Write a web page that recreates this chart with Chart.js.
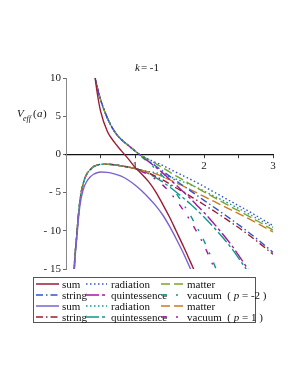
<!DOCTYPE html>
<html lang="en">
<head>
<meta charset="utf-8">
<title>k = -1</title>
<script src="https://cdn.jsdelivr.net/npm/chart.js"></script>
<style>
  html, body { margin: 0; padding: 0; background: #fff; }
</style>
</head>
<body>
<canvas id="veffChart" width="298" height="385"></canvas>
<script>
// scale factor a, shared by all curves
const aGrid = [0.1, 0.12, 0.15, 0.2, 0.25, 0.3, 0.35, 0.4, 0.45, 0.5, 0.6, 0.7, 0.8, 0.9,
               1.0, 1.1, 1.2, 1.3, 1.4, 1.5, 1.6, 1.7, 1.8, 1.9, 2.0, 2.2, 2.4, 2.6, 2.8, 3.0];

// upper family (first set of legend rows)
const sumUp = [null, null, null, null, null, null, 15.5, 11.6, 8.2, 5.7, 3.0, 1.6, 0.5, -0.55,
               -1.7, -2.6, -3.6, -4.9, -6.5, -8.2, -10.1, -12.0, -14.0, -16.0, -18.1, -22.5, -27, -32, -37, -42];
const radUp = [null, null, null, null, null, null, 14.7, 11.2, 8.9, 7.2, 4.75, 3.05, 1.95, 1.2,
               0.45, -0.2, -0.65, -1.05, -1.45, -1.9, -2.35, -2.8, -3.25, -3.7, -4.2, -5.2, -6.2, -7.2, -8.25, -9.3];
const matUp = [null, null, null, null, null, null, 14.7, 11.2, 8.9, 7.2, 4.75, 3.05, 1.95, 1.2,
               0.45, -0.2, -0.7, -1.2, -1.75, -2.3, -2.85, -3.35, -3.9, -4.4, -4.9, -5.9, -6.9, -7.85, -8.85, -9.9];
const strUp = [null, null, null, null, null, null, 14.7, 11.2, 8.9, 7.2, 4.75, 3.05, 1.95, 1.2,
               0.45, -0.2, -0.85, -1.52, -2.17, -2.84, -3.5, -4.1, -4.75, -5.38, -6.01, -7.26, -8.55, -9.88, -11.3, -12.82];
const quiUp = [null, null, null, null, null, null, 14.7, 11.2, 8.9, 7.2, 4.75, 3.05, 1.95, 1.2,
               0.45, -0.25, -0.95, -1.67, -2.42, -3.24, -4.05, -4.9, -5.75, -6.68, -7.61, -9.66, -11.9, -14.53, -17.26, -20.17];
const vacUp = [null, null, null, null, null, null, 14.7, 11.2, 8.9, 7.2, 4.75, 3.05, 1.95, 1.2,
               0.45, -0.35, -1.1, -1.92, -2.82, -3.89, -5.15, -6.5, -7.95, -9.58, -11.31, -15.56, -20.3, -25.33, -30.86, -36.87];

// lower family (second set of legend rows)
const sumLo = [-22.5, -15.3, -11.6, -6.8, -4.6, -3.55, -2.95, -2.6, -2.4, -2.3, -2.35, -2.55, -2.85, -3.35,
               -4.0, -4.8, -5.7, -6.7, -7.9, -9.4, -11.1, -12.9, -14.9, -17.0, -19.2, -24, -29, -34, -39, -44];
const radLo = [-22, -15, -11.2, -6.2, -3.8, -2.6, -2.0, -1.6, -1.4, -1.3, -1.28, -1.35, -1.5, -1.65,
               -1.85, -2.1, -2.25, -2.4, -2.6, -2.9, -3.25, -3.6, -3.95, -4.35, -4.8, -5.7, -6.6, -7.55, -8.55, -9.55];
const matLo = [-22, -15, -11.2, -6.2, -3.8, -2.6, -2.0, -1.6, -1.4, -1.3, -1.28, -1.35, -1.5, -1.65,
               -1.85, -2.1, -2.3, -2.55, -2.9, -3.3, -3.75, -4.15, -4.6, -5.05, -5.5, -6.4, -7.3, -8.2, -9.15, -10.15];
const strLo = [-22, -15, -11.2, -6.2, -3.8, -2.6, -2.0, -1.6, -1.4, -1.3, -1.28, -1.35, -1.5, -1.65,
               -1.85, -2.1, -2.45, -2.88, -3.34, -3.86, -4.4, -4.9, -5.46, -6.02, -6.59, -7.74, -8.95, -10.22, -11.6, -13.08];
const quiLo = [-22, -15, -11.2, -6.2, -3.8, -2.6, -2.0, -1.6, -1.4, -1.3, -1.28, -1.35, -1.5, -1.65,
               -1.85, -2.15, -2.55, -3.03, -3.59, -4.26, -4.95, -5.7, -6.46, -7.32, -8.19, -10.14, -12.3, -14.87, -17.55, -20.43];
const vacLo = [-22, -15, -11.2, -6.2, -3.8, -2.6, -2.0, -1.6, -1.4, -1.3, -1.28, -1.35, -1.5, -1.65,
               -1.85, -2.25, -2.7, -3.28, -3.99, -4.91, -6.05, -7.3, -8.66, -10.22, -11.89, -16.04, -20.7, -25.67, -31.15, -37.13];

const xTicks = [1, 2, 3];
const yTicks = [10, 5, 0, -5, -10, -15];

const RED = '#9a1d33', BLUE = '#2f55c8', GREEN = '#7aa52a', MAG = '#a3189e',
      TEAL = '#0f968c', PURPLE = '#7a62cc', ORANGE = '#c97a26';

const DOT = [1.5, 2.5], DASH = [9, 4], DASHDOT = [7, 3, 1.5, 3],
      LONGDOT = [13, 3, 3, 3], SPARSE = [6, 9, 2, 9];

// legend order: row by row, 3 per row
const series = [
    { name: 'sum', data: sumUp, color: RED, dash: [] },
    { name: 'radiation', data: radUp, color: BLUE, dash: DOT },
    { name: 'matter', data: matUp, color: GREEN, dash: DASH },
    { name: 'string', data: strUp, color: BLUE, dash: DASHDOT },
    { name: 'quintessence', data: quiUp, color: MAG, dash: LONGDOT },
    { name: 'vacuum', p: '-2', data: vacUp, color: TEAL, dash: SPARSE },
    { name: 'sum', data: sumLo, color: PURPLE, dash: [] },
    { name: 'radiation', data: radLo, color: TEAL, dash: DOT },
    { name: 'matter', data: matLo, color: ORANGE, dash: DASH },
    { name: 'string', data: strLo, color: RED, dash: DASHDOT },
    { name: 'quintessence', data: quiLo, color: TEAL, dash: LONGDOT },
    { name: 'vacuum', p: '1', data: vacLo, color: MAG, dash: SPARSE }
];

const SERIF = '"Liberation Serif", "DejaVu Serif", serif';

const textPlugin = {
    id: 'mapleText',
    afterDraw(chart) {
        const ctx = chart.ctx;
        ctx.save();
        ctx.fillStyle = '#111';
        ctx.textBaseline = 'alphabetic';

        // title
        ctx.font = 'italic 11px ' + SERIF;
        ctx.fillText('k', 135, 71);
        let w = ctx.measureText('k').width;
        ctx.font = '11px ' + SERIF;
        ctx.fillText('= -1', 135 + w + 1, 71);

        // y label V_eff(a)
        ctx.font = 'italic 11px ' + SERIF;
        ctx.fillText('V', 17, 117);
        ctx.font = 'italic 8px ' + SERIF;
        ctx.fillText('eff', 23, 121);
        ctx.font = '11px ' + SERIF;
        ctx.fillText('(', 33, 117);
        ctx.font = 'italic 11px ' + SERIF;
        ctx.fillText('a', 37, 117);
        ctx.font = '11px ' + SERIF;
        ctx.fillText(')', 43, 117);

        // legend
        ctx.strokeStyle = '#555';
        ctx.lineWidth = 1;
        ctx.setLineDash([]);
        ctx.strokeRect(33.5, 277.5, 222, 45);
        const rowsY = [284, 295, 306, 317];
        const cols = [{ x0: 36, x1: 59, tx: 62 }, { x0: 86, x1: 107, tx: 111 }, { x0: 161, x1: 183, tx: 187 }];
        series.forEach((s, i) => {
            const r = Math.floor(i / 3), c = cols[i % 3], y = rowsY[r];
            ctx.strokeStyle = s.color;
            ctx.lineWidth = 1.5;
            ctx.setLineDash(s.dash);
            ctx.beginPath();
            ctx.moveTo(c.x0, y);
            ctx.lineTo(c.x1, y);
            ctx.stroke();
            ctx.setLineDash([]);
            ctx.fillStyle = '#111';
            ctx.font = '11px ' + SERIF;
            let x = c.tx;
            const head = s.p ? s.name + '  ( ' : s.name;
            ctx.fillText(head, x, y + 3.5);
            if (s.p) {
                x += ctx.measureText(head).width;
                ctx.font = 'italic 11px ' + SERIF;
                ctx.fillText('p', x, y + 3.5);
                x += ctx.measureText('p ').width;
                ctx.font = '11px ' + SERIF;
                ctx.fillText('= ' + s.p + ' )', x, y + 3.5);
            }
        });
        ctx.restore();
    }
};

const ctx = document.getElementById('veffChart').getContext('2d');
new Chart(ctx, {
    type: 'line',
    data: {
        datasets: series.map(s => ({
            label: s.name,
            data: aGrid.map((a, i) => ({ x: a, y: s.data[i] })),
            borderColor: s.color,
            borderDash: s.dash,
            borderWidth: 1.4,
            pointRadius: 0,
            fill: false,
            cubicInterpolationMode: 'monotone'
        }))
    },
    options: {
        responsive: false,
        animation: false,
        layout: { padding: { left: 0, right: 25, top: 78, bottom: 116 } },
        plugins: { legend: { display: false }, tooltip: { enabled: false } },
        scales: {
            x: {
                type: 'linear',
                position: { y: 0 },
                min: 0,
                max: 3,
                border: { color: '#111', width: 1.2 },
                grid: { drawOnChartArea: false, tickLength: 3, tickColor: '#333' },
                ticks: {
                    stepSize: 0.5,
                    autoSkip: false,
                    maxRotation: 0,
                    padding: 2,
                    color: '#222',
                    font: { family: SERIF, size: 11 },
                    callback: v => xTicks.includes(v) ? String(v) : ''
                }
            },
            y: {
                min: -15,
                max: 10,
                afterFit: s => { s.width = 66; },
                afterBuildTicks: s => { s.ticks = yTicks.map(v => ({ value: v })); },
                border: { color: '#888', width: 1 },
                grid: { drawOnChartArea: false, tickLength: 3, tickColor: '#666' },
                ticks: {
                    padding: 2,
                    color: '#222',
                    font: { family: SERIF, size: 11 },
                    callback: v => v < 0 ? '- ' + (-v) : String(v)
                }
            }
        }
    },
    plugins: [textPlugin]
});
</script>
</body>
</html>
